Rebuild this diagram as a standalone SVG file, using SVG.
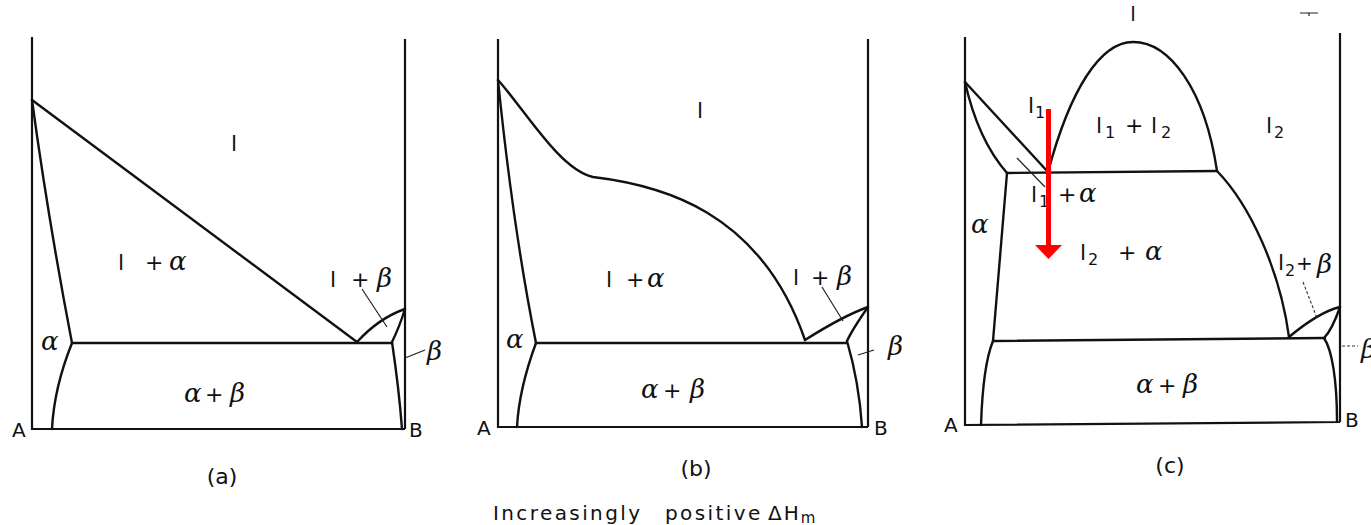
<svg xmlns="http://www.w3.org/2000/svg" width="1371" height="525" viewBox="0 0 1371 525">
<style>
.bg{fill:#fff}
.ln{fill:none;stroke:#111;stroke-width:2.4;stroke-linejoin:round;stroke-linecap:round}
.ax{fill:none;stroke:#111;stroke-width:2.2}
.ld{fill:none;stroke:#222;stroke-width:1.2}
.dl{fill:none;stroke:#333;stroke-width:1.1;stroke-dasharray:3 2}
.t{font-family:"DejaVu Sans",sans-serif;font-size:22px;fill:#111}
.ab{font-family:"DejaVu Sans",sans-serif;font-size:20px;fill:#111}
.sb{font-family:"DejaVu Sans",sans-serif;font-size:16px;fill:#111}
.g{font-family:"DejaVu Serif",serif;font-style:italic;font-size:26px;fill:#111}
.arrow{fill:#f00}
</style>
<rect class="bg" x="0" y="0" width="1371" height="525"/>

<g id="panel-a">
  <g id="a-lines">
    <path class="ax" d="M32,37 V429 H405 M405,39 V429"/>
    <path class="ln" d="M32,100 L357,342"/>
    <path class="ln" d="M32,100 Q48,218 72,343"/>
    <path class="ln" d="M72,343 H392"/>
    <path class="ln" d="M72,343 Q54,388 52,429"/>
    <path class="ln" d="M357,342 Q379,318 405,309"/>
    <path class="ln" d="M392,342 Q399,328 405,309"/>
    <path class="ln" d="M392,342 Q399,389 402,429"/>
    <path class="ld" d="M362,289 L387,327 M405,358 L425,350"/>
  </g>
  <g id="a-labels">
    <text class="t" x="234" y="151" text-anchor="middle">l</text>
    <text class="t" y="270"><tspan x="118">l</tspan><tspan x="145">+</tspan></text>
    <text class="g" x="169" y="270">α</text>
    <text class="t" y="287"><tspan x="330">l</tspan><tspan x="351">+</tspan></text>
    <text class="g" x="377" y="287">β</text>
    <text class="g" x="41" y="350">α</text>
    <text class="g" x="184" y="402">α</text>
    <text class="t" x="205" y="402">+</text>
    <text class="g" x="230" y="402">β</text>
    <text class="g" x="427" y="360">β</text>
    <text class="ab" x="12" y="437">A</text>
    <text class="ab" x="409" y="437">B</text>
    <text class="t" x="222" y="484" text-anchor="middle">(a)</text>
  </g>
</g>

<g id="panel-b">
  <g id="b-lines">
    <path class="ax" d="M498,39 V427 H868 M868,39 V427"/>
    <path class="ln" d="M498,80 C525,110 560,170 593,177 C660,185 760,210 805,340"/>
    <path class="ln" d="M498,80 Q513,228 536,343"/>
    <path class="ln" d="M536,343 H847"/>
    <path class="ln" d="M536,343 Q519,389 517,427"/>
    <path class="ln" d="M805,340 Q843,316 868,307"/>
    <path class="ln" d="M847,341 Q852,330 868,307"/>
    <path class="ln" d="M847,341 Q859,382 862,427"/>
    <path class="ld" d="M822,287 L843,321 M858,355 L874,350"/>
  </g>
  <g id="b-labels">
    <text class="t" x="700" y="118" text-anchor="middle">l</text>
    <text class="t" y="287"><tspan x="606">l</tspan><tspan x="626">+</tspan></text>
    <text class="g" x="647" y="287">α</text>
    <text class="t" y="285"><tspan x="793">l</tspan><tspan x="811">+</tspan></text>
    <text class="g" x="837" y="285">β</text>
    <text class="g" x="506" y="348">α</text>
    <text class="g" x="641" y="398">α</text>
    <text class="t" x="663" y="398">+</text>
    <text class="g" x="690" y="398">β</text>
    <text class="g" x="888" y="355">β</text>
    <text class="ab" x="477" y="435">A</text>
    <text class="ab" x="874" y="435">B</text>
    <text class="t" x="696" y="476" text-anchor="middle">(b)</text>
  </g>
</g>

<g id="panel-c">
  <g id="c-lines">
    <path class="ax" d="M965,37 V425 L1340,422 M1340,33 V422"/>
    <path class="ln" d="M965,82 L1048,172"/>
    <path class="ln" d="M965,82 Q978,140 1007,173"/>
    <path class="ln" d="M1007,173 L1217,171"/>
    <path class="ln" d="M1048,172 C1070,90 1100,42 1133,42 C1170,42 1205,90 1217,171"/>
    <path class="ln" d="M1217,171 C1250,205 1280,270 1289,337"/>
    <path class="ln" d="M1007,173 L993,341"/>
    <path class="ln" d="M993,341 L1325,338"/>
    <path class="ln" d="M993,341 Q983,365 981,425"/>
    <path class="ln" d="M1289,337 Q1319,312 1340,307"/>
    <path class="ln" d="M1324,338 Q1332,330 1340,307"/>
    <path class="ln" d="M1324,338 C1332,350 1337,380 1337,421"/>
    <path class="ld" d="M1017,158 L1045,187"/>
    <path class="dl" d="M1303,282 L1317,318 M1342,346 L1358,346"/>
    <path class="ld" d="M1300,13 H1318 M1309,13 V16"/>
  </g>
  <g id="c-labels">
    <text class="ab" x="1133" y="21" text-anchor="middle">l</text>
    <text class="t" x="1028" y="113">l</text>
    <text class="sb" x="1035" y="118">1</text>
    <text class="t" x="1096" y="133">l</text>
    <text class="sb" x="1105" y="138">1</text>
    <text class="t" x="1125" y="133">+</text>
    <text class="t" x="1151" y="133">l</text>
    <text class="sb" x="1161" y="138">2</text>
    <text class="t" x="1266" y="133">l</text>
    <text class="sb" x="1274" y="138">2</text>
    <text class="t" x="1031" y="202">l</text>
    <text class="sb" x="1039" y="207">1</text>
    <text class="t" x="1058" y="202">+</text>
    <text class="g" x="1079" y="202">α</text>
    <text class="g" x="971" y="233">α</text>
    <text class="t" x="1080" y="260">l</text>
    <text class="sb" x="1088" y="265">2</text>
    <text class="t" x="1118" y="260">+</text>
    <text class="g" x="1145" y="260">α</text>
    <text class="t" x="1278" y="270">l</text>
    <text class="sb" x="1285" y="276">2</text>
    <text class="ab" x="1296" y="270">+</text>
    <text class="g" x="1317" y="273">β</text>
    <text class="g" x="1136" y="393">α</text>
    <text class="t" x="1158" y="393">+</text>
    <text class="g" x="1183" y="393">β</text>
    <text class="g" x="1361" y="358">β</text>
    <text class="ab" x="944" y="432">A</text>
    <text class="ab" x="1345" y="427">B</text>
    <text class="t" x="1170" y="473" text-anchor="middle">(c)</text>
  </g>
  <g id="red-arrow">
    <rect class="arrow" x="1046" y="109" width="5" height="137"/>
    <polygon class="arrow" points="1035,245 1062,245 1048.5,259"/>
  </g>
</g>

<g id="caption">
  <text class="ab" y="520" font-size="19" letter-spacing="2.4"><tspan x="493">Increasingly</tspan><tspan x="665">positive</tspan></text>
  <text class="ab" y="520" font-size="19" letter-spacing="2"><tspan x="768">ΔH</tspan><tspan font-size="15" dy="3" letter-spacing="0">m</tspan></text>
</g>
</svg>
